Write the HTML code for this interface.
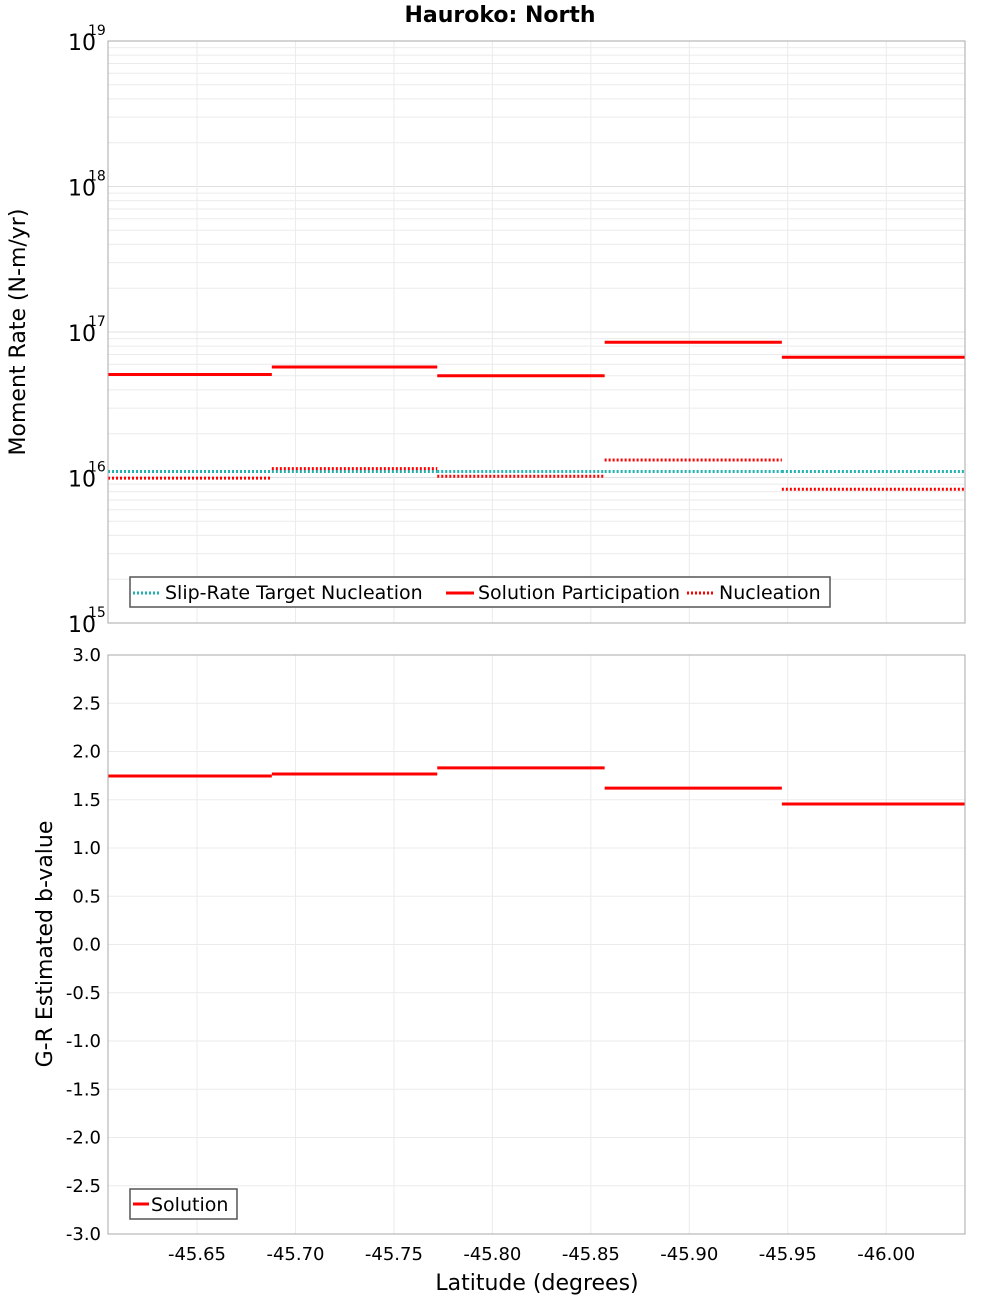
<!DOCTYPE html>
<html><head><meta charset="utf-8"><style>
body{margin:0;background:#fff;width:1000px;height:1300px;overflow:hidden;font-family:"DejaVu Sans","Liberation Sans",sans-serif;}
svg text{font-family:"DejaVu Sans","Liberation Sans",sans-serif;}
</style></head><body>
<svg id="chart" width="1000" height="1300" xmlns="http://www.w3.org/2000/svg">
<text x="500" y="22" text-anchor="middle" font-size="22" font-weight="bold">Hauroko: North</text>
<g id="topg"></g><g id="botg"></g>
</svg>
<script>
const segEdges=[-45.6048,-45.688,-45.772,-45.857,-45.947,-46.040];
const participation=[5.1e16,5.75e16,5.0e16,8.5e16,6.7e16];
const nucleation=[9.9e15,1.15e16,1.02e16,1.32e16,8.3e15];
const targetNucleation=[1.1e16,1.1e16,1.1e16,1.1e16,1.1e16];
const bValues=[1.746,1.767,1.83,1.62,1.456];
const xTicks=[-45.65,-45.70,-45.75,-45.80,-45.85,-45.90,-45.95,-46.00];
const xTickLabels=["-45.65","-45.70","-45.75","-45.80","-45.85","-45.90","-45.95","-46.00"];
const bTicks=[-3,-2.5,-2,-1.5,-1,-0.5,0,0.5,1,1.5,2,2.5,3];
const logDecades=[15,16,17,18,19];

const NS="http://www.w3.org/2000/svg";
const L=108,R=965,T1=41,B1=623,T2=655,B2=1234;
const x=v=>L+(v-segEdges[0])/(segEdges[5]-segEdges[0])*(R-L);
const yLog=v=>B1-(Math.log10(v)-15)/4*(B1-T1);
const yB=v=>B2-(v+3)/6*(B2-T2);
function mk(p,tag,a){const e=document.createElementNS(NS,tag);for(const k in a)e.setAttribute(k,a[k]);p.appendChild(e);return e;}
const topG=document.getElementById('topg'),botG=document.getElementById('botg');

for(let d=15;d<19;d++)for(let m=2;m<10;m++){const yy=yLog(m*Math.pow(10,d));const g=mk(topG,'line',{x1:L,x2:R,y1:yy,y2:yy,stroke:'#ebebeb','stroke-width':1});

}
logDecades.forEach(d=>{const yy=yLog(Math.pow(10,d));const g=mk(topG,'line',{x1:L,x2:R,y1:yy,y2:yy,stroke:'#e0e0e0'});


const t=mk(topG,'text',{x:96,y:yy+9,'text-anchor':'end','font-size':22});t.textContent='10';


const s=mk(topG,'text',{x:88,y:yy-6,'font-size':14});s.textContent=d;

});
xTicks.forEach((v,i)=>{[[T1,B1],[T2,B2]].forEach(([a,b],j)=>{const g=mk(j?botG:topG,'line',{x1:x(v),x2:x(v),y1:a,y2:b,stroke:'#ebebeb'});

});
const t=mk(botG,'text',{x:x(v),y:1260,'text-anchor':'middle','font-size':18});t.textContent=xTickLabels[i];

});
bTicks.forEach(v=>{const g=mk(botG,'line',{x1:L,x2:R,y1:yB(v),y2:yB(v),stroke:'#ebebeb'});


const t=mk(botG,'text',{x:101,y:yB(v)+6,'text-anchor':'end','font-size':18});t.textContent=v.toFixed(1);

});

function steps(p,arr,yf,color,dash,name){arr.forEach((v,i)=>{const a={x1:x(segEdges[i]),x2:x(segEdges[i+1]),y1:yf(v),y2:yf(v),stroke:color,'stroke-width':3};if(dash)a['stroke-dasharray']=dash;const e=mk(p,'line',a);

});}
steps(topG,targetNucleation,yLog,'#20b2b2','2,2','target-nucleation-segment');
steps(topG,nucleation,yLog,'#ff0000','2,2','nucleation-segment');
steps(topG,participation,yLog,'#ff0000',null,'participation-segment');
steps(botG,bValues,yB,'#ff0000',null,'b-value-segment');

const f1=mk(topG,'rect',{x:L,y:T1,width:R-L,height:B1-T1,fill:'none',stroke:'#aaa'});


const f2=mk(botG,'rect',{x:L,y:T2,width:R-L,height:B2-T2,fill:'none',stroke:'#aaa'});



const lg=mk(topG,'rect',{x:130,y:577,width:700,height:30,fill:'#fff',stroke:'#555','stroke-width':1.5});


[[133,'#20b2b2','2,2','Slip-Rate Target Nucleation'],[446,'#ff0000',null,'Solution Participation'],[687,'#ff0000','2,2','Nucleation']].forEach(([lx,c,d,txt])=>{const a={x1:lx,x2:lx+28,y1:593,y2:593,stroke:c,'stroke-width':3};if(d)a['stroke-dasharray']=d;const e=mk(topG,'line',a);


const t=mk(topG,'text',{x:lx+32,y:599,'font-size':19});t.textContent=txt;

});
const lg2=mk(botG,'rect',{x:130,y:1189,width:107,height:30,fill:'#fff',stroke:'#555','stroke-width':1.5});


const sw=mk(botG,'line',{x1:133,x2:149,y1:1204,y2:1204,stroke:'#ff0000','stroke-width':3});


const st=mk(botG,'text',{x:151,y:1211,'font-size':19});st.textContent='Solution';



const yt=mk(topG,'text',{x:0,y:0,'font-size':22,'text-anchor':'middle',transform:'translate(25,332) rotate(-90)'});yt.textContent='Moment Rate (N-m/yr)';


const yt2=mk(botG,'text',{x:0,y:0,'font-size':22,'text-anchor':'middle',transform:'translate(52,944) rotate(-90)'});yt2.textContent='G-R Estimated b-value';


const xt=mk(botG,'text',{x:537,y:1290,'font-size':22,'text-anchor':'middle'});xt.textContent='Latitude (degrees)';


</script>
</body></html>
